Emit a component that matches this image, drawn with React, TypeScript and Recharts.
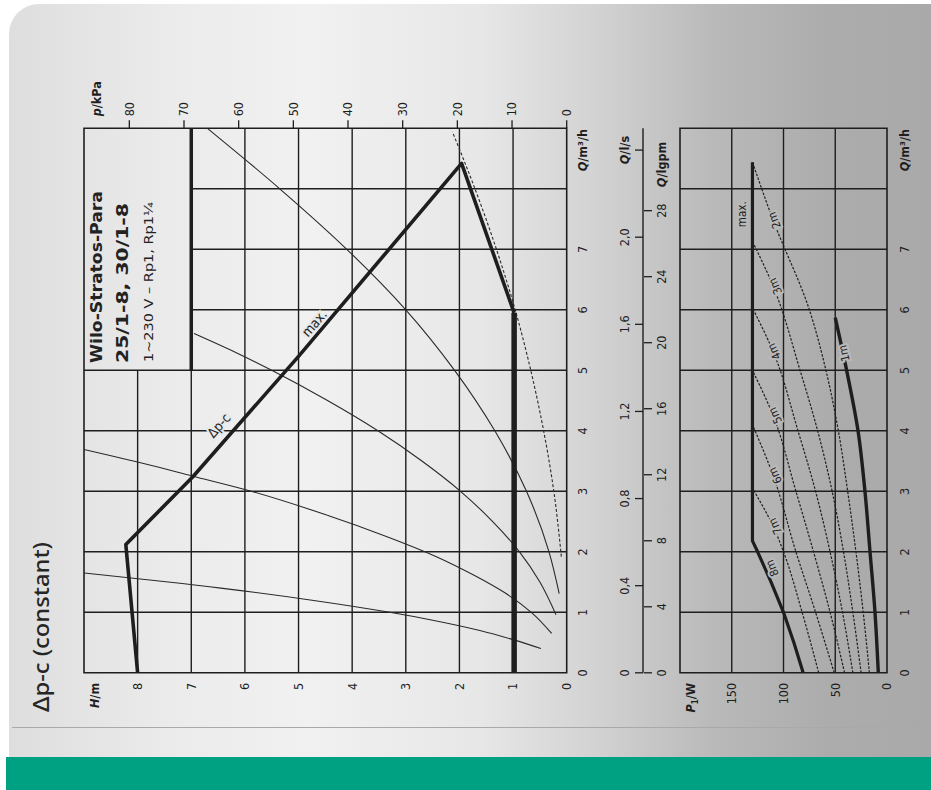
import React from 'react';
import { ComposedChart, Line, XAxis, YAxis, ReferenceLine, ReferenceArea, ReferenceDot } from 'recharts';

const FONT = "'Liberation Sans Narrow', 'DejaVu Sans Condensed', 'Liberation Sans', Roboto, sans-serif";
const TITLE_FONT = "'Noto Sans', 'Open Sans', sans-serif";
const INK = '#1e1e1e';

// axis ticks
const qTicks = [0, 1, 2, 3, 4, 5, 6, 7];
const hTicks = [0, 1, 2, 3, 4, 5, 6, 7, 8];
const kpaTicks = [0, 10, 20, 30, 40, 50, 60, 70, 80];
const pTicks = [0, 50, 100, 150];
const lsTicks = [0, 0.4, 0.8, 1.2, 1.6, 2.0, 2.4];
const gpmTicks = [0, 4, 8, 12, 16, 20, 24, 28];
const qGrid = [1, 2, 3, 4, 5, 6, 7, 8];
const hGrid = [1, 2, 3, 4, 5, 6, 7, 8];
const pGrid = [50, 100, 150];

// where the axis titles sit (axis units)
const Q_TITLE = 8.64;
const H_TITLE = 8.8;
const KPA_TITLE = 86;
const P_TITLE = 190;
const LS_TITLE = 2.4;
const GPM_TITLE = 30.8;

// legend box corner (Q, H)
const BOX_Q = 5;
const BOX_H = 7;

// head curves, Q m³/h -> H m
const headMax = [
  { q: 0, h: 8.0 }, { q: 2.12, h: 8.22 }, { q: 3.24, h: 6.97 }, { q: 5.23, h: 5.0 },
  { q: 8.42, h: 1.96 }, { q: 5.95, h: 0.98 },
];
const headMin = [{ q: 0, h: 0.98 }, { q: 5.95, h: 0.98 }];
const sysA = [
  { q: 0.4, h: 0.48 }, { q: 0.54, h: 0.97 }, { q: 0.7, h: 1.62 }, { q: 0.87, h: 2.5 }, { q: 1.0, h: 3.3 },
  { q: 1.2, h: 4.75 }, { q: 1.4, h: 6.45 }, { q: 1.65, h: 9.0 },
];
const sysB = [
  { q: 0.65, h: 0.28 }, { q: 1.0, h: 0.66 }, { q: 1.31, h: 1.13 }, { q: 1.6, h: 1.7 }, { q: 1.92, h: 2.43 },
  { q: 2.25, h: 3.35 }, { q: 2.6, h: 4.45 }, { q: 3.03, h: 6.0 }, { q: 3.25, h: 6.97 }, { q: 3.45, h: 7.85 },
  { q: 3.69, h: 9.0 },
];
const sysC = [
  { q: 0.96, h: 0.2 }, { q: 1.5, h: 0.5 }, { q: 2.0, h: 0.88 }, { q: 2.5, h: 1.38 }, { q: 3.0, h: 1.98 },
  { q: 3.5, h: 2.7 }, { q: 4.0, h: 3.52 }, { q: 4.5, h: 4.46 }, { q: 5.0, h: 5.5 }, { q: 5.3, h: 6.18 },
  { q: 5.61, h: 6.95 },
];
const sysD = [
  { q: 1.31, h: 0.14 }, { q: 2, h: 0.33 }, { q: 3, h: 0.75 }, { q: 4, h: 1.34 }, { q: 5, h: 2.09 },
  { q: 6, h: 3.0 }, { q: 7, h: 4.1 }, { q: 8, h: 5.35 }, { q: 9, h: 6.7 },
];
const sysE = [
  { q: 1.92, h: 0.1 }, { q: 3, h: 0.24 }, { q: 4, h: 0.43 }, { q: 5, h: 0.67 }, { q: 6, h: 0.96 },
  { q: 7, h: 1.31 }, { q: 8, h: 1.71 }, { q: 8.94, h: 2.13 },
];

// power curves, Q m³/h -> P1 W
const powerMax = [
  { q: 0, p: 81 }, { q: 0.5, p: 90 }, { q: 1, p: 100 }, { q: 1.5, p: 112 }, { q: 2.0, p: 125 },
  { q: 2.18, p: 130 }, { q: 8.44, p: 130 },
];
const power7 = [{ q: 0, p: 66 }, { q: 1, p: 82 }, { q: 2, p: 100 }, { q: 2.42, p: 110 }, { q: 3.05, p: 130 }];
const power6 = [{ q: 0, p: 51 }, { q: 1, p: 69 }, { q: 2, p: 88 }, { q: 3.26, p: 110 }, { q: 4.1, p: 130 }];
const power5 = [{ q: 0, p: 41 }, { q: 1, p: 55 }, { q: 2, p: 71 }, { q: 3, p: 88 }, { q: 4.25, p: 110 }, { q: 5.0, p: 130 }];
const power4 = [
  { q: 0, p: 33 }, { q: 1, p: 43 }, { q: 2, p: 55 }, { q: 3, p: 69 }, { q: 4, p: 86 }, { q: 5.31, p: 110 },
  { q: 6.03, p: 130 },
];
const power3 = [
  { q: 0, p: 25 }, { q: 1, p: 33 }, { q: 2, p: 42 }, { q: 3, p: 53 }, { q: 4, p: 67 }, { q: 5, p: 84 },
  { q: 6.39, p: 110 }, { q: 7.13, p: 130 },
];
const power2 = [
  { q: 0, p: 17 }, { q: 1, p: 23 }, { q: 2, p: 30 }, { q: 3, p: 38 }, { q: 4, p: 47 }, { q: 5, p: 59 },
  { q: 6, p: 75 }, { q: 7.48, p: 110 }, { q: 8.44, p: 130 },
];
const power1 = [
  { q: 0, p: 8.4 }, { q: 1, p: 11.6 }, { q: 2, p: 16.4 }, { q: 3, p: 21.3 }, { q: 4, p: 28 }, { q: 5, p: 39 },
  { q: 5.87, p: 50 },
];
const powerThin = [power7, power6, power5, power4, power3, power2];

const headLabels = [
  { q: 4.09, h: 6.49, text: 'Δp-c', angle: 41 },
  { q: 5.78, h: 4.71, text: 'max.', angle: 41 },
];
const powerLabels = [
  { q: 7.58, p: 140, text: 'max.', angle: 0 },
  { q: 7.48, p: 109, text: '2m', angle: -21 },
  { q: 6.39, p: 108, text: '3m', angle: -24 },
  { q: 5.31, p: 109, text: '4m', angle: -25 },
  { q: 4.25, p: 108, text: '5m', angle: -25 },
  { q: 3.26, p: 108, text: '6m', angle: -25 },
  { q: 2.42, p: 108, text: '7m', angle: -25 },
  { q: 1.73, p: 111, text: '8m', angle: -23 },
  { q: 5.28, p: 41.5, text: '1m', angle: -13 },
];

type Side = 'left' | 'right' | 'top' | 'bottom';

function makeTick(side: Side, title: number, titleNode: React.ReactNode, offset: number, mark = 0,
  fmt: (v: number) => string = (v) => String(v), markOnTitle = false) {
  return function Tick(props: any) {
    const { x, y, payload } = props;
    const v = Number(payload.value);
    const isTitle = Math.abs(v - title) < 1e-6;
    let tx = x, ty = y, x2 = x, y2 = y;
    let anchor: 'start' | 'middle' | 'end' = 'middle';
    if (side === 'left') { tx = x - offset; anchor = 'end'; x2 = x - mark; }
    else if (side === 'right') { tx = x + offset; anchor = 'start'; x2 = x + mark; }
    else if (side === 'top') { ty = y - offset; y2 = y - mark; }
    else { ty = y + offset; y2 = y + mark; }
    return (
      <g>
        {mark > 0 && (!isTitle || markOnTitle) && (
          <line x1={x} y1={y} x2={x2} y2={y2} stroke={INK} strokeWidth={1.3} />
        )}
        <text x={tx} y={ty} dy="0.35em" textAnchor={anchor} fontFamily={FONT} fontSize={12.5}
          fill={INK} fontWeight={isTitle ? 700 : 400}>
          {isTitle ? titleNode : fmt(v)}
        </text>
      </g>
    );
  };
}

const comma = (v: number) => (v === 0 ? '0' : v.toFixed(1).replace('.', ','));

const qTitle = <><tspan fontStyle="italic">Q</tspan>/m³/h</>;
const hTick = makeTick('left', H_TITLE, <><tspan fontStyle="italic">H</tspan>/m</>, 10);
const kpaTick = makeTick('right', KPA_TITLE, <><tspan fontStyle="italic">p</tspan>/kPa</>, 12, 8);
const qTopTick = makeTick('bottom', Q_TITLE, qTitle, 16);
const qBottomTick = makeTick('bottom', Q_TITLE, qTitle, 18);
const pTick = makeTick('left', P_TITLE,
  <><tspan fontStyle="italic">P</tspan><tspan fontSize={8} dy={3}>1</tspan><tspan dy={-3}>/W</tspan></>, 10);
const lsTick = makeTick('top', LS_TITLE, <><tspan fontStyle="italic">Q</tspan>/l/s</>, 18, 8, comma, true);
const gpmTick = makeTick('bottom', GPM_TITLE, <><tspan fontStyle="italic">Q</tspan>/lgpm</>, 18, 8);

function curveLabel(text: string, angle: number, halo: string, size: number) {
  return (props: any) => {
    const vb = props.viewBox || {};
    const cx = vb.x + (vb.width || 0) / 2;
    const cy = vb.y + (vb.height || 0) / 2;
    return (
      <text x={cx} y={cy} transform={`rotate(${angle} ${cx} ${cy})`} textAnchor="middle" dominantBaseline="central"
        fontFamily={FONT} fontSize={size} fill={INK} stroke={halo} strokeWidth={4} paintOrder="stroke">
        {text}
      </text>
    );
  };
}

const axisBase = { axisLine: false, tickLine: false, tickSize: 0, tickMargin: 0, interval: 0 as const };

function HeadChart() {
  return (
    <ComposedChart width={790} height={600} margin={{ top: 84, right: 68.3, bottom: 3.3, left: 67.2 }}>
      <XAxis type="number" dataKey="q" domain={[0, 9]} ticks={[...qTicks, Q_TITLE]} height={30}
        tick={qTopTick} {...axisBase} />
      <YAxis yAxisId="h" type="number" domain={[0, 9]} ticks={[...hTicks, H_TITLE]} width={50}
        tick={hTick} {...axisBase} />
      <YAxis yAxisId="kpa" orientation="right" type="number" domain={[0, 88.29]} ticks={[...kpaTicks, KPA_TITLE]}
        width={60} tick={kpaTick} {...axisBase} />
      {qGrid.map((q) => (
        <ReferenceLine key={'q' + q} yAxisId="h" segment={[{ x: q, y: 0 }, { x: q, y: q > BOX_Q ? BOX_H : 9 }]}
          stroke={INK} strokeWidth={1.4} />
      ))}
      {hGrid.map((h) => (
        <ReferenceLine key={'h' + h} yAxisId="h" segment={[{ x: 0, y: h }, { x: h > BOX_H ? BOX_Q : 9, y: h }]}
          stroke={INK} strokeWidth={1.4} />
      ))}
      <ReferenceLine yAxisId="h" segment={[{ x: BOX_Q, y: BOX_H }, { x: 9, y: BOX_H }]} stroke={INK} strokeWidth={3.5} />
      <ReferenceArea yAxisId="h" x1={0} x2={9} y1={0} y2={9} fill="none" stroke={INK} strokeWidth={1.6}
        ifOverflow="visible" />
      <Line yAxisId="kpa" data={kpaTicks.map((k) => ({ q: 0, kpa: k }))} dataKey="kpa" stroke="none" dot={false}
        isAnimationActive={false} />
      {[sysA, sysB, sysC, sysD].map((d, i) => (
        <Line key={'s' + i} yAxisId="h" data={d} dataKey="h" type="monotone" stroke="#2a2a2a" strokeWidth={1.1}
          dot={false} isAnimationActive={false} />
      ))}
      <Line yAxisId="h" data={sysE} dataKey="h" type="monotone" stroke="#2a2a2a" strokeWidth={1.1}
        strokeDasharray="3 2" dot={false} isAnimationActive={false} />
      <Line yAxisId="h" data={headMin} dataKey="h" type="linear" stroke={INK} strokeWidth={5.5} dot={false}
        isAnimationActive={false} />
      <Line yAxisId="h" data={headMax} dataKey="h" type="linear" stroke={INK} strokeWidth={3.6} dot={false}
        strokeLinejoin="round" isAnimationActive={false} />
      {headLabels.map((l) => (
        <ReferenceDot key={l.text} yAxisId="h" x={l.q} y={l.h} r={0} fill="none" stroke="none"
          label={curveLabel(l.text, l.angle, '#e9e9e9', 13.5)} />
      ))}
    </ComposedChart>
  );
}

function PowerChart() {
  return (
    <ComposedChart width={790} height={931} margin={{ top: 680, right: 128.3, bottom: 14, left: 67.2 }}>
      <XAxis type="number" dataKey="q" domain={[0, 9]} ticks={[...qTicks, Q_TITLE]} height={30}
        tick={qBottomTick} {...axisBase} />
      <YAxis type="number" domain={[0, 200]} ticks={[...pTicks, P_TITLE]} width={50} tick={pTick} {...axisBase} />
      {qGrid.map((q) => (
        <ReferenceLine key={'q' + q} x={q} stroke={INK} strokeWidth={1.4} />
      ))}
      {pGrid.map((p) => (
        <ReferenceLine key={'p' + p} y={p} stroke={INK} strokeWidth={1.4} />
      ))}
      <ReferenceArea x1={0} x2={9} y1={0} y2={200} fill="none" stroke={INK} strokeWidth={1.6} ifOverflow="visible" />
      {powerThin.map((d, i) => (
        <Line key={'pw' + i} data={d} dataKey="p" type="monotone" stroke="#1f1f1f" strokeWidth={1.2}
          strokeDasharray="2.5 1.5" dot={false} isAnimationActive={false} />
      ))}
      <Line data={power1} dataKey="p" type="monotone" stroke={INK} strokeWidth={3.4} dot={false}
        isAnimationActive={false} />
      <Line data={powerMax} dataKey="p" type="linear" stroke={INK} strokeWidth={3.2} dot={false}
        strokeLinejoin="round" isAnimationActive={false} />
      {powerLabels.map((l) => (
        <ReferenceDot key={l.text} x={l.q} y={l.p} r={0} fill="none" stroke="none"
          label={curveLabel(l.text, l.angle, '#b9b9b9', 11.5)} />
      ))}
    </ComposedChart>
  );
}

function FlowAxes() {
  return (
    <ComposedChart width={790} height={931} margin={{ top: 613, right: 128.3, bottom: 257, left: 117.2 }}>
      <XAxis xAxisId="ls" orientation="top" type="number" dataKey="ls" domain={[0, 2.5]} ticks={lsTicks}
        height={30} tick={lsTick} axisLine={{ stroke: INK, strokeWidth: 1.4 }} tickLine={false} tickSize={0}
        tickMargin={0} interval={0} />
      <XAxis xAxisId="gpm" orientation="bottom" type="number" dataKey="gpm" domain={[0, 32.99]}
        ticks={[...gpmTicks, GPM_TITLE]} height={30} tick={gpmTick} {...axisBase} />
      <YAxis hide domain={[0, 1]} />
      <Line xAxisId="ls" data={lsTicks.map((v) => ({ ls: v, y: 0 }))} dataKey="y" stroke="none" dot={false}
        isAnimationActive={false} />
      <Line xAxisId="gpm" data={gpmTicks.map((v) => ({ gpm: v, y: 0 }))} dataKey="y" stroke="none" dot={false}
        isAnimationActive={false} />
    </ComposedChart>
  );
}

const abs: React.CSSProperties = { position: 'absolute', left: 0, top: 0 };

export default function App() {
  return (
    <div style={{ position: 'absolute', left: 0, top: 0, width: 931, height: 790, overflow: 'hidden', background: '#fff' }}>
      <div style={{
        position: 'absolute', left: 9, top: 4, width: 922, height: 753, borderTopLeftRadius: 30,
        background: 'linear-gradient(90deg, #dedede 0px, #ebebeb 160px, #f1f1f1 300px, #e7e7e7 470px, #d2d2d2 590px, #bababa 700px, #acacac 820px, #a9a9a9 931px)',
      }} />
      <div style={{ position: 'absolute', left: 12, top: 727, width: 919, height: 1, background: '#a9a9a9' }} />
      <div style={{ position: 'absolute', left: 6, top: 757, width: 925, height: 33, background: '#00a182' }} />
      <div style={{
        position: 'absolute', left: 0, top: 0, width: 790, height: 931, transformOrigin: '0 0',
        transform: 'translateY(790px) rotate(-90deg)',
      }}>
        <svg width={790} height={931} style={abs}>
          <text x={78} y={49} fontFamily={TITLE_FONT} fontSize={22} fontWeight={500} fill="#262626" textLength={170}
            lengthAdjust="spacingAndGlyphs">Δp-c (constant)</text>
          <text x={427} y={102} fontFamily={FONT} fontSize={16} fontWeight={700} fill="#222" textLength={172}
            lengthAdjust="spacingAndGlyphs">Wilo-Stratos-Para</text>
          <text x={427} y={128} fontFamily={FONT} fontSize={16} fontWeight={700} fill="#222" textLength={160}
            lengthAdjust="spacingAndGlyphs">25/1-8, 30/1-8</text>
          <text x={428} y={153} fontFamily={FONT} fontSize={12.5} fill="#222" textLength={160}
            lengthAdjust="spacingAndGlyphs">1~230 V – Rp1, Rp1¼</text>
        </svg>
        <div style={abs}><HeadChart /></div>
        <div style={abs}><PowerChart /></div>
        <div style={abs}><FlowAxes /></div>
      </div>
    </div>
  );
}
